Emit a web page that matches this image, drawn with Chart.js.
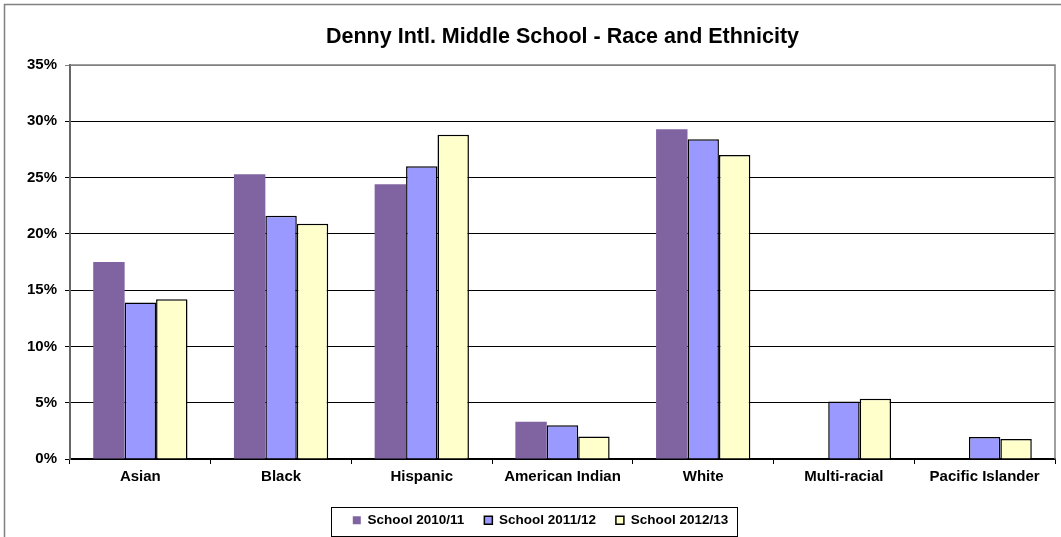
<!DOCTYPE html>
<html>
<head>
<meta charset="utf-8">
<script src="https://cdn.jsdelivr.net/npm/chart.js@4/dist/chart.umd.min.js"></script>
<style>
  html, body { margin: 0; padding: 0; background: #fff; overflow: hidden; }
  #wrap { position: relative; width: 1061px; height: 537px; }
</style>
</head>
<body>
<div id="wrap"><canvas id="raceChart"></canvas></div>
<script>
const categories = ['Asian', 'Black', 'Hispanic', 'American Indian', 'White', 'Multi-racial', 'Pacific Islander'];
const school2010 = [17.5, 25.3, 24.4, 3.3, 29.3, null, null];
const school2011 = [13.9, 21.6, 26.0, 3.0, 28.4, 5.1, 1.95];
const school2012 = [14.2, 20.9, 28.8, 2.0, 27.0, 5.35, 1.77];
const yTicks = [0, 5, 10, 15, 20, 25, 30, 35];

const FONT = "'Liberation Sans', Arial, sans-serif";

// plot frame, outer chart frame and the box round the legend
const framePlugin = {
    id: 'frames',
    beforeDatasetsDraw(chart) {
        const { ctx, chartArea } = chart;
        ctx.save();
        ctx.strokeStyle = '#808080';
        ctx.lineWidth = 1.5;
        ctx.beginPath();
        ctx.moveTo(chartArea.left, chartArea.top);
        ctx.lineTo(chartArea.right, chartArea.top);
        ctx.lineTo(chartArea.right, chartArea.bottom);
        ctx.stroke();
        ctx.restore();
    },
    afterDraw(chart) {
        const { ctx } = chart;
        ctx.save();
        ctx.strokeStyle = '#808080';
        ctx.lineWidth = 1.5;
        ctx.beginPath();
        ctx.moveTo(4.5, chart.height);
        ctx.lineTo(4.5, 4.5);
        ctx.lineTo(chart.width, 4.5);
        ctx.stroke();

        const boxes = chart.legend.legendHitBoxes;
        if (boxes && boxes.length) {
            const first = boxes[0];
            const last = boxes[boxes.length - 1];
            const left = first.left - 22;
            const right = last.left + last.width + 9;
            const top = first.top - 7;
            const bottom = first.top + first.height + 8;
            ctx.strokeStyle = '#000';
            ctx.lineWidth = 1;
            ctx.strokeRect(Math.round(left) + 0.5, Math.round(top) + 0.5,
                Math.round(right - left), Math.round(bottom - top));
        }
        ctx.restore();
    }
};

const ctx = document.getElementById('raceChart').getContext('2d');
new Chart(ctx, {
    type: 'bar',
    data: {
        labels: categories,
        datasets: [
            {
                label: 'School 2010/11',
                data: school2010,
                backgroundColor: '#8064A2',
                borderColor: '#8064A2',
                borderWidth: 0
            },
            {
                label: 'School 2011/12',
                data: school2011,
                backgroundColor: '#9999FF',
                borderColor: '#000',
                borderWidth: 1.5
            },
            {
                label: 'School 2012/13',
                data: school2012,
                backgroundColor: '#FFFFCC',
                borderColor: '#000',
                borderWidth: 1.5
            }
        ]
    },
    options: {
        responsive: true,
        maintainAspectRatio: false,
        animation: false,
        devicePixelRatio: 1,
        layout: { padding: { left: 26, right: 6, top: 0, bottom: 0 } },
        datasets: {
            bar: { categoryPercentage: 0.67, barPercentage: 1.0 }
        },
        plugins: {
            title: {
                display: true,
                text: 'Denny Intl. Middle School - Race and Ethnicity',
                fullSize: false,
                color: '#000',
                font: { family: FONT, size: 21.5, weight: 'bold' },
                padding: { top: 24, bottom: 15.2 }
            },
            legend: {
                position: 'bottom',
                labels: {
                    color: '#000',
                    boxWidth: 8,
                    boxHeight: 8,
                    padding: 20,
                    font: { family: FONT, size: 13.5, weight: 'bold' }
                }
            },
            tooltip: { enabled: false }
        },
        scales: {
            x: {
                grid: {
                    display: true,
                    drawOnChartArea: false,
                    drawTicks: true,
                    tickLength: 5,
                    color: '#000'
                },
                border: { color: '#000', width: 1.5 },
                ticks: {
                    color: '#000',
                    padding: 4,
                    maxRotation: 0,
                    font: { family: FONT, size: 15, weight: 'bold' }
                },
                afterFit(scale) { scale.height = 34.5; }
            },
            y: {
                min: 0,
                max: 35,
                afterBuildTicks(scale) {
                    scale.ticks = yTicks.map(v => ({ value: v }));
                },
                grid: {
                    color: (c) => (c.tick && c.tick.value === 35 ? '#808080' : '#000'),
                    lineWidth: 1,
                    tickLength: 5
                },
                border: { color: '#666', width: 2 },
                ticks: {
                    color: '#000',
                    padding: 8,
                    font: { family: FONT, size: 15, weight: 'bold' },
                    callback: (v) => v + '%'
                },
                afterFit(scale) { scale.width = 44; }
            }
        }
    },
    plugins: [framePlugin]
});
</script>
</body>
</html>
